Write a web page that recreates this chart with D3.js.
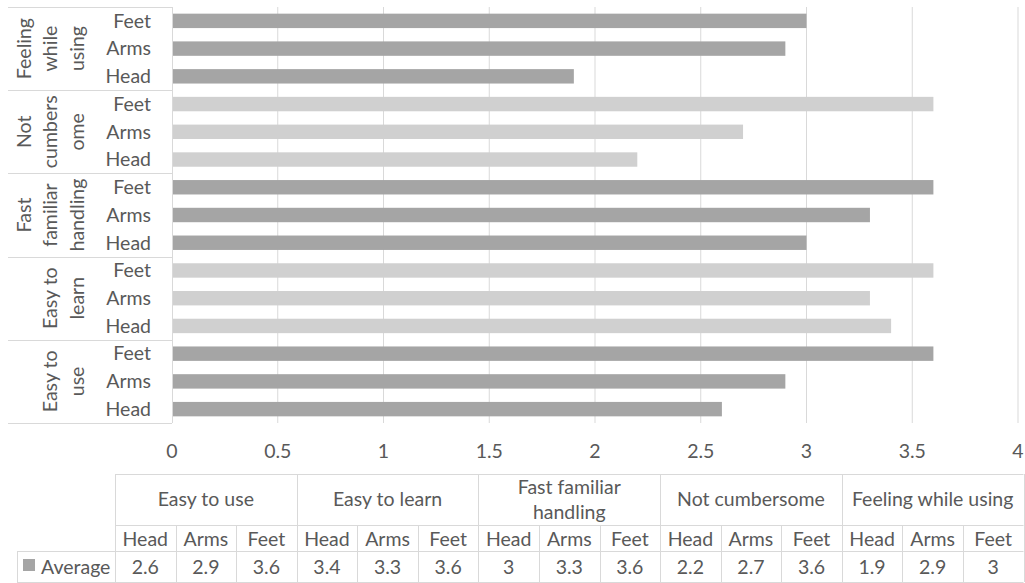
<!DOCTYPE html>
<html>
<head>
<meta charset="utf-8">
<script src="https://cdn.jsdelivr.net/npm/d3@7"></script>
<style>
  html, body { margin: 0; padding: 0; background: #fff; }
  svg { display: block; }
  text { font-family: Lato, "Open Sans", sans-serif; fill: #595959; }
</style>
</head>
<body>
<svg id="chart" width="1025" height="583"></svg>
<script>
// Criteria (groups) and body parts, in data order
const groups = ["Easy to use", "Easy to learn", "Fast familiar handling", "Not cumbersome", "Feeling while using"];
const parts = ["Head", "Arms", "Feet"];
// Average rating per group × body part
const averages = [2.6, 2.9, 3.6, 3.4, 3.3, 3.6, 3, 3.3, 3.6, 2.2, 2.7, 3.6, 1.9, 2.9, 3];
// Wrapped group names as shown on the vertical axis
const axisGroupLines = [["Easy to", "use"], ["Easy to", "learn"], ["Fast", "familiar", "handling"], ["Not", "cumbers", "ome"], ["Feeling", "while", "using"]];
// Wrapped group names as shown in the data table header
const tableGroupLines = [["Easy to use"], ["Easy to learn"], ["Fast familiar", "handling"], ["Not cumbersome"], ["Feeling while using"]];
const xTicks = [0, 0.5, 1, 1.5, 2, 2.5, 3, 3.5, 4];
const seriesName = "Average";

const rows = [];
groups.forEach((g, gi) => parts.forEach((p, pi) => {
  rows.push({ group: g, gi, part: p, key: gi + "-" + p, value: averages[gi * parts.length + pi] });
}));

const svg = d3.select("#chart");
const plot = { left: 172, right: 1018, top: 7, bottom: 423 };
const axisLeft = 8;
const darkFill = "#a5a5a5", lightFill = "#d0d0d0", gridColor = "#d9d9d9";
const fontSize = 19.5;

const x = d3.scaleLinear().domain([0, 4]).range([plot.left, plot.right]);
// first row of data sits at the bottom, as in a category axis
const y = d3.scaleBand().domain(rows.map(r => r.key).reverse()).range([plot.top, plot.bottom]).paddingInner(0.48).paddingOuter(0.24);

// vertical gridlines
svg.append("g").selectAll("line").data(xTicks.filter(t => t > 0)).join("line")
  .attr("x1", d => x(d)).attr("x2", d => x(d))
  .attr("y1", plot.top).attr("y2", plot.bottom)
  .attr("stroke", gridColor).attr("stroke-width", 1);

// bars
svg.append("g").selectAll("rect").data(rows).join("rect")
  .attr("x", x(0))
  .attr("y", d => y(d.key))
  .attr("width", d => x(d.value) - x(0))
  .attr("height", y.bandwidth())
  .attr("fill", d => d.gi % 2 === 0 ? darkFill : lightFill);

// category axis frame: spine, group separators
const groupBand = d3.scaleBand().domain(groups.slice().reverse()).range([plot.top, plot.bottom]);
svg.append("line").attr("x1", plot.left + 0.5).attr("x2", plot.left + 0.5)
  .attr("y1", plot.top).attr("y2", plot.bottom).attr("stroke", gridColor);
const sepYs = [plot.top].concat(groups.map(g => groupBand(g) + groupBand.bandwidth()));
svg.append("g").selectAll("line").data(sepYs).join("line")
  .attr("x1", axisLeft).attr("x2", plot.left)
  .attr("y1", d => Math.round(d) + 0.5).attr("y2", d => Math.round(d) + 0.5)
  .attr("stroke", gridColor);

// inner labels (body parts)
svg.append("g").selectAll("text").data(rows).join("text")
  .attr("x", plot.left - 21)
  .attr("y", d => y(d.key) + y.bandwidth() / 2)
  .attr("dy", "0.35em")
  .attr("text-anchor", "end")
  .attr("font-size", fontSize)
  .text(d => d.part);

// outer labels (groups), rotated, last line anchored next to the part labels
const lineGap = 26.5;
const lastLineX = 77;
groups.forEach((g, gi) => {
  const lines = axisGroupLines[gi];
  const cy = groupBand(g) + groupBand.bandwidth() / 2;
  lines.forEach((ln, li) => {
    const lx = lastLineX - (lines.length - 1 - li) * lineGap;
    svg.append("text")
      .attr("transform", `translate(${lx},${cy}) rotate(-90)`)
      .attr("text-anchor", "middle")
      .attr("dy", "0.35em")
      .attr("font-size", fontSize)
      .text(ln);
  });
});

// value axis labels
svg.append("g").selectAll("text").data(xTicks).join("text")
  .attr("x", d => x(d)).attr("y", 451).attr("dy", "0.35em")
  .attr("text-anchor", "middle").attr("font-size", fontSize)
  .text(d => d);

// data table
const tbl = { left: 115, right: 1023.5, top: 474, mid: 525, valTop: 551, bottom: 582, legendLeft: 17 };
const colX = d3.scaleBand().domain(rows.map(r => r.key)).range([tbl.left, tbl.right]);
const grpX = d3.scaleBand().domain(groups).range([tbl.left, tbl.right]);
const tg = svg.append("g").attr("stroke", gridColor).attr("fill", "none");
const hline = (x1, x2, yy) => tg.append("line").attr("x1", x1).attr("x2", x2).attr("y1", yy + 0.5).attr("y2", yy + 0.5);
const vline = (xx, y1, y2) => tg.append("line").attr("x1", Math.round(xx) + 0.5).attr("x2", Math.round(xx) + 0.5).attr("y1", y1).attr("y2", y2);
hline(tbl.left, tbl.right, tbl.top);
hline(tbl.left, tbl.right, tbl.mid);
hline(tbl.legendLeft, tbl.right, tbl.valTop);
hline(tbl.legendLeft, tbl.right, tbl.bottom);
vline(tbl.legendLeft, tbl.valTop, tbl.bottom);
groups.forEach(g => vline(grpX(g), tbl.top, tbl.bottom));
vline(tbl.right, tbl.top, tbl.bottom);
rows.forEach(r => { if (r.part !== parts[0]) vline(colX(r.key), tbl.mid, tbl.bottom); });

// group headers
groups.forEach((g, gi) => {
  const lines = tableGroupLines[gi];
  const cx = grpX(g) + grpX.bandwidth() / 2;
  const cy = (tbl.top + tbl.mid) / 2;
  lines.forEach((ln, li) => {
    svg.append("text").attr("x", cx)
      .attr("y", cy + (li - (lines.length - 1) / 2) * 25)
      .attr("dy", "0.35em").attr("text-anchor", "middle").attr("font-size", fontSize)
      .text(ln);
  });
});
// part headers and values
svg.append("g").selectAll("text").data(rows).join("text")
  .attr("x", d => colX(d.key) + colX.bandwidth() / 2)
  .attr("y", (tbl.mid + tbl.valTop) / 2 + 1).attr("dy", "0.35em")
  .attr("text-anchor", "middle").attr("font-size", fontSize).text(d => d.part);
svg.append("g").selectAll("text").data(rows).join("text")
  .attr("x", d => colX(d.key) + colX.bandwidth() / 2)
  .attr("y", (tbl.valTop + tbl.bottom) / 2 + 1).attr("dy", "0.35em")
  .attr("text-anchor", "middle").attr("font-size", fontSize).text(d => d.value);

// legend key
svg.append("rect").attr("x", 23).attr("y", 559).attr("width", 12).attr("height", 12).attr("fill", darkFill);
svg.append("text").attr("x", 41).attr("y", (tbl.valTop + tbl.bottom) / 2 + 1).attr("dy", "0.35em")
  .attr("font-size", fontSize).text(seriesName);
</script>
</body>
</html>
